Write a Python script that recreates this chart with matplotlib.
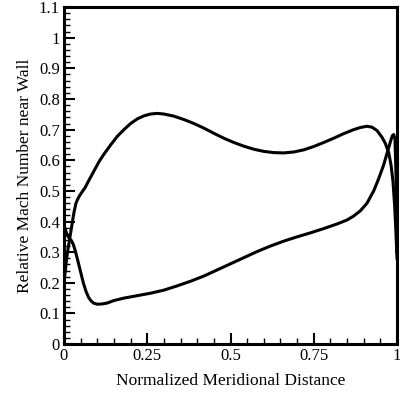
import matplotlib
matplotlib.use("Agg")
import matplotlib.pyplot as plt
from matplotlib.ticker import MultipleLocator, FixedLocator

plt.rcParams.update({
    "font.family": "Liberation Serif",
    "font.size": 11,
})

# Upper curve (suction side)
upper_x = [0.0, 0.004, 0.008, 0.012, 0.018, 0.024, 0.03, 0.036, 0.042, 0.05,
           0.063, 0.075, 0.09, 0.105, 0.12, 0.14, 0.16, 0.18, 0.2, 0.22,
           0.24, 0.26, 0.28, 0.3, 0.33, 0.36, 0.39, 0.42, 0.45, 0.48,
           0.51, 0.54, 0.57, 0.6, 0.63, 0.66, 0.69, 0.72, 0.75, 0.78,
           0.81, 0.84, 0.87, 0.89, 0.91, 0.925, 0.94, 0.955, 0.965, 0.975,
           0.982, 0.988, 0.993, 0.997, 1.0]
upper_y = [0.2, 0.24, 0.28, 0.31, 0.35, 0.39, 0.43, 0.46, 0.475, 0.49,
           0.51, 0.535, 0.565, 0.595, 0.62, 0.65, 0.678, 0.7, 0.72, 0.735,
           0.745, 0.751, 0.753, 0.751, 0.744, 0.733, 0.72, 0.705, 0.688, 0.672,
           0.658, 0.646, 0.636, 0.629, 0.625, 0.624, 0.627, 0.634, 0.645, 0.658,
           0.672, 0.687, 0.7, 0.707, 0.711, 0.708, 0.697, 0.675, 0.655, 0.625,
           0.585, 0.53, 0.45, 0.36, 0.28]

# Lower curve (pressure side)
lower_x = [0.0, 0.005, 0.01, 0.016, 0.022, 0.028, 0.035, 0.042, 0.05, 0.058,
           0.066, 0.074, 0.082, 0.09, 0.1, 0.115, 0.13, 0.15, 0.18, 0.22,
           0.26, 0.3, 0.34, 0.38, 0.42, 0.46, 0.5, 0.54, 0.58, 0.62,
           0.66, 0.7, 0.74, 0.78, 0.82, 0.85, 0.87, 0.89, 0.91, 0.93,
           0.945, 0.96, 0.972, 0.98, 0.986, 0.99, 0.994, 0.997, 1.0]
lower_y = [0.39, 0.37, 0.355, 0.345, 0.338, 0.325, 0.3, 0.27, 0.235, 0.2,
           0.172, 0.152, 0.14, 0.133, 0.13, 0.131, 0.134, 0.142, 0.15, 0.158,
           0.166, 0.176, 0.19, 0.205, 0.222, 0.242, 0.262, 0.282, 0.302, 0.32,
           0.336, 0.35, 0.363, 0.377, 0.392, 0.405, 0.418, 0.435, 0.46, 0.5,
           0.54, 0.585, 0.63, 0.66, 0.68, 0.684, 0.67, 0.55, 0.3]

x_ticks = [0, 0.25, 0.5, 0.75, 1]
x_tick_labels = ["0", "0.25", "0.5", "0.75", "1"]
y_ticks = [0, 0.1, 0.2, 0.3, 0.4, 0.5, 0.6, 0.7, 0.8, 0.9, 1.0, 1.1]
y_tick_labels = ["0", "0.1", "0.2", "0.3", "0.4", "0.5", "0.6", "0.7", "0.8", "0.9", "1", "1.1"]

fig = plt.figure(figsize=(4.0, 3.95), dpi=100)
ax = fig.add_axes([0.16, 0.129, 0.8325, 0.853])

ax.plot(upper_x, upper_y, color="black", linewidth=2.2, solid_joinstyle="round")
ax.plot(lower_x, lower_y, color="black", linewidth=2.2, solid_joinstyle="round")

ax.set_xlim(0, 1)
ax.set_ylim(0, 1.1)
ax.xaxis.set_major_locator(FixedLocator(x_ticks))
ax.set_xticklabels(x_tick_labels)
ax.yaxis.set_major_locator(FixedLocator(y_ticks))
ax.set_yticklabels(y_tick_labels)
ax.xaxis.set_minor_locator(MultipleLocator(0.05))
ax.yaxis.set_minor_locator(MultipleLocator(0.02))
ax.tick_params(which="major", direction="in", length=8, width=1.5,
               labelsize=12, pad=3)
ax.tick_params(which="minor", direction="in", length=4.5, width=1.0)
for s in ax.spines.values():
    s.set_linewidth(2.2)

ax.set_xlabel("Normalized Meridional Distance", fontsize=12.5, labelpad=6)
ax.set_ylabel("Relative Mach Number near Wall", fontsize=12.5, labelpad=4)

fig.savefig("out.png", dpi=100, facecolor="white")
